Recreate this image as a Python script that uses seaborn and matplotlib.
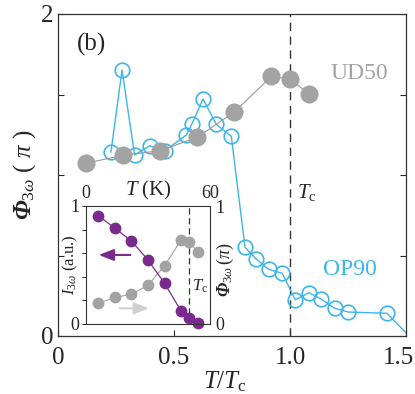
import numpy as np
import pandas as pd
import matplotlib
matplotlib.use("Agg")
import matplotlib.pyplot as plt
import matplotlib.transforms as mtransforms
import seaborn as sns

# ---------------- data ----------------
ud50_t = [0.12, 0.28, 0.44, 0.60, 0.76, 0.92, 1.00, 1.08]
ud50_phi = [1.073, 1.122, 1.151, 1.234, 1.391, 1.613, 1.596, 1.505]

op90_t = [0.228, 0.276, 0.330, 0.395, 0.460, 0.553, 0.578, 0.625, 0.682, 0.747,
          0.806, 0.853, 0.908, 0.967, 1.023, 1.082, 1.134, 1.193, 1.250, 1.418, 1.55]
op90_phi = [1.141, 1.652, 1.124, 1.182, 1.151, 1.248, 1.319, 1.472, 1.315, 1.240,
            0.551, 0.480, 0.414, 0.389, 0.224, 0.269, 0.230, 0.172, 0.149, 0.141, -0.054]

inset_T = [6, 14, 22, 30, 38, 46, 50, 54]
inset_I = [0.918, 0.811, 0.703, 0.542, 0.345, 0.110, 0.048, 0.011]
inset_phi = [0.175, 0.226, 0.252, 0.328, 0.494, 0.712, 0.695, 0.613]

xticks = [0, 0.5, 1.0, 1.5]
xtick_labels = ["0", "0.5", "1.0", "1.5"]
yticks = [0, 0.5, 1.0, 1.5, 2.0]
ytick_labels = ["0", "", "", "", "2"]
Tc_main = 1.0
Tc_inset = 50

BLUE = "#3DB6EA"
GRAY = "#A3A3A3"
PURPLE = "#7A2A8C"

sns.set_style("ticks")
plt.rcParams["font.family"] = ["Liberation Serif", "DejaVu Serif"]
plt.rcParams["mathtext.fontset"] = "custom"
plt.rcParams["mathtext.rm"] = "Liberation Serif"
plt.rcParams["mathtext.it"] = "Liberation Serif:italic"
plt.rcParams["mathtext.bf"] = "Liberation Serif:bold"
plt.rcParams["mathtext.bfit"] = "Liberation Serif:italic:bold"

fig = plt.figure(figsize=(4.15, 3.94), dpi=100)
ax = fig.add_axes([58 / 415, 58 / 394, 348 / 415, 322 / 394])

df_op = pd.DataFrame({"t": op90_t, "phi": op90_phi})
df_ud = pd.DataFrame({"t": ud50_t, "phi": ud50_phi})

sns.lineplot(data=df_op, x="t", y="phi", sort=False, estimator=None, ax=ax,
             color=BLUE, lw=1.0, marker="o", markersize=10.5,
             markerfacecolor="none", markeredgecolor=BLUE, markeredgewidth=1.2)
sns.lineplot(data=df_ud, x="t", y="phi", sort=False, estimator=None, ax=ax,
             color="#999999", lw=0.8, marker="o", markersize=13,
             markerfacecolor=GRAY, markeredgecolor=GRAY, markeredgewidth=0)

ax.axvline(Tc_main, color="#333333", lw=1.0, ls=(0, (6, 4)), zorder=1)
ax.set_xlim(0, 1.5)
ax.set_ylim(0, 2)
ax.set_xticks(xticks)
ax.set_xticklabels(xtick_labels)
ax.set_yticks(yticks)
ax.set_yticklabels(ytick_labels)
ax.tick_params(direction="in", length=4, width=0.8, labelsize=18, right=True, top=False)
ax.tick_params(axis="x", pad=8)
last = ax.get_xticklabels()[-1]
last.set_transform(last.get_transform() + mtransforms.ScaledTranslation(-8 / 100, 0, fig.dpi_scale_trans))
for s in ax.spines.values():
    s.set_linewidth(0.9)
    s.set_color("#333333")

ax.set_xlabel(r"$\mathit{T/T}_{\mathrm{c}}$", fontsize=18)
ax.xaxis.set_label_coords(0.48, -0.105)
ax.set_ylabel(r"$\mathbfit{\Phi}_{3\omega}$ ( $\mathit{\pi}$ )", fontsize=18)
ax.yaxis.set_label_coords(-0.058, 0.5)

ax.text(0.055, 0.905, "(b)", transform=ax.transAxes, fontsize=18, ha="left", va="center")
ax.text(0.865, 0.815, "UD50", transform=ax.transAxes, fontsize=17, color=GRAY, ha="center", va="center")
ax.text(0.84, 0.205, "OP90", transform=ax.transAxes, fontsize=17, color=BLUE, ha="center", va="center")
ax.text(0.715, 0.447, r"$\mathit{T}_{\mathrm{c}}$", transform=ax.transAxes, fontsize=15, ha="center", va="center")

# ---------------- inset ----------------
axi = fig.add_axes([86 / 415, 70 / 394, 124 / 415, 118 / 394])
df_in = pd.DataFrame({"T": inset_T, "I": inset_I, "phi": inset_phi})
sns.lineplot(data=df_in, x="T", y="phi", sort=False, estimator=None, ax=axi,
             color=GRAY, lw=0.8, marker="o", markersize=8.5,
             markerfacecolor=GRAY, markeredgewidth=0, clip_on=False)
sns.lineplot(data=df_in, x="T", y="I", sort=False, estimator=None, ax=axi,
             color=PURPLE, lw=0.9, marker="o", markersize=8.5,
             markerfacecolor=PURPLE, markeredgewidth=0, clip_on=False)
axi.axvline(Tc_inset, color="#333333", lw=0.9, ls=(0, (5, 3)), zorder=1)
axi.set_xlim(0, 60)
axi.set_ylim(0, 1)
axi.set_xticks([0, 60])
axi.set_xticklabels(["0", "60"])
axi.xaxis.tick_top()
axi.tick_params(axis="x", direction="in", length=0, labelsize=13, pad=3)
axi.set_yticks([0, 0.2, 0.4, 0.6, 0.8, 1.0])
axi.set_yticklabels(["0", "", "", "", "", "1"])
axi.tick_params(axis="y", direction="out", length=3, width=0.7, labelsize=13, pad=2)
axi.set_xlabel("")
axi.set_ylabel(r"$\mathit{I}_{3\omega}$ (a.u.)", fontsize=12)
axi.yaxis.set_label_coords(-0.045, 0.5)
axi.text(0.5, 1.135, r"$\mathit{T}$ (K)", transform=axi.transAxes, fontsize=15, ha="center", va="center")
axi.text(0.92, 0.32, r"$\mathit{T}_{\mathrm{c}}$", transform=axi.transAxes, fontsize=12, ha="center", va="center")
for s in axi.spines.values():
    s.set_linewidth(0.8)
    s.set_color("#333333")

axr = axi.twinx()
axr.set_ylim(0, 1)
axr.set_yticks([0, 1])
axr.set_yticklabels(["0", "1"])
axr.tick_params(axis="y", direction="in", length=0, labelsize=13, pad=4)
axr.set_ylabel(r"$\mathbfit{\Phi}_{3\omega}\,(\mathit{\pi})$", fontsize=13)
axr.yaxis.set_label_coords(1.04, 0.46)
for s in axr.spines.values():
    s.set_visible(False)

axi.annotate("", xy=(0.08, 0.585), xytext=(0.38, 0.585), xycoords="axes fraction",
             arrowprops=dict(arrowstyle="-|>,head_length=0.9,head_width=0.35", color=PURPLE, lw=1.5))
axi.annotate("", xy=(0.53, 0.133), xytext=(0.25, 0.133), xycoords="axes fraction",
             arrowprops=dict(arrowstyle="-|>,head_length=0.9,head_width=0.35", color="#CFCFCF", lw=1.5))

fig.savefig("out.png", dpi=100)
